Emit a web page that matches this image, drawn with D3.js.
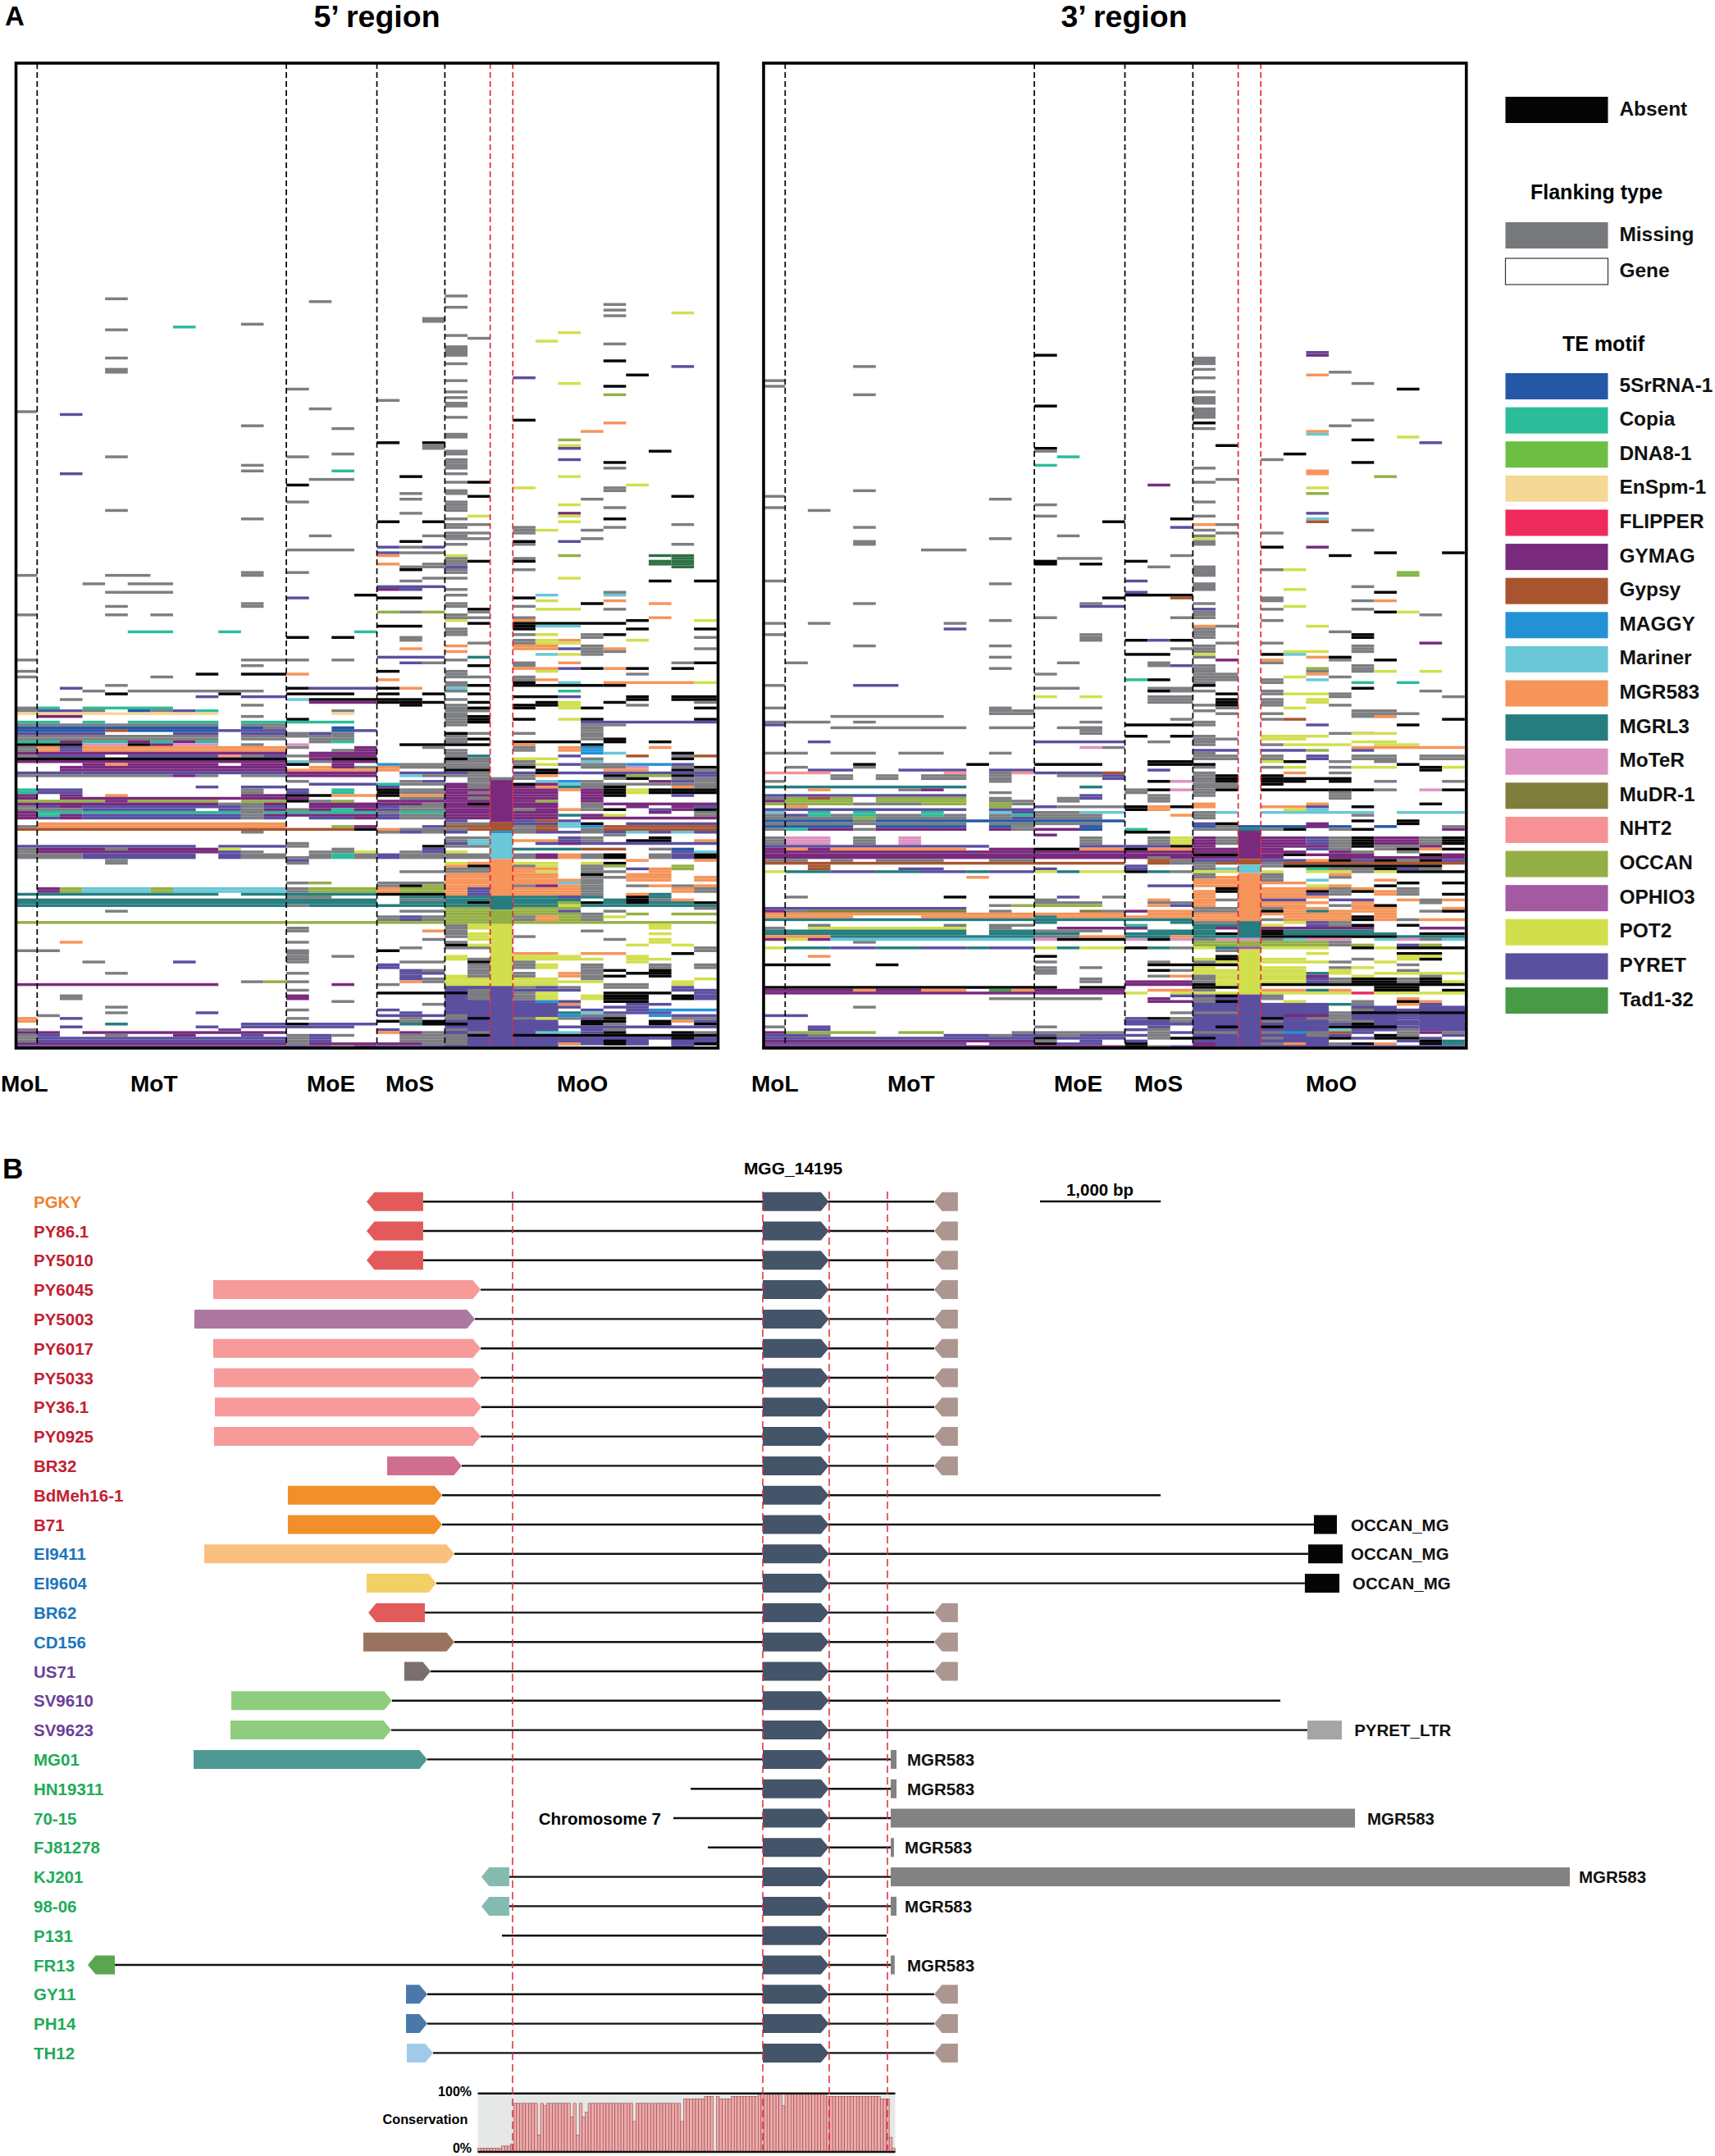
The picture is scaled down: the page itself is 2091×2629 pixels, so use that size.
<!DOCTYPE html>
<html><head><meta charset="utf-8">
<script src="https://cdn.jsdelivr.net/npm/d3@7"></script>
<style>html,body{margin:0;padding:0;background:#fff}text{font-family:"Liberation Sans",Arial,sans-serif;font-weight:700}</style>
</head><body><div id="chart"></div>
<script>
// ---------- Panel A data ----------
const motifNames=["5SrRNA-1","Copia","DNA8-1","EnSpm-1","FLIPPER","GYMAG","Gypsy","MAGGY","Mariner","MGR583","MGRL3","MoTeR","MuDR-1","NHT2","OCCAN","OPHIO3","POT2","PYRET","Tad1-32"];
const motifColors=["#2458a7","#2bbd9a","#6fbe44","#f5d896","#ef2a5c","#792a7d","#a8552f","#2392d5","#69c7d6","#f69459","#267d7f","#dc92c1","#7f7d3a","#f69195","#93b045","#a35aa3","#d2df4c","#5b4fa0","#489a47"];
const motifCodes=["b","c","d","e","f","y","h","m","n","o","l","t","u","s","a","i","z","p","x"];
const cladeNames=["MoL","MoT","MoE","MoS","MoO"];
// cells: "row(s):column(s)+code"; G missing, K absent, X dark tad block
const cells5=[
"327-348:19-20p","333-348:22-23p","345-347:24-25p 26-27p 29-30p",
"82:19G","83:4G","84:13G","85:26G","86:19G","87:26G","88:29z","89:26G","90-91:18G","92:10G","93:7c","94:4G","95:24z","96:19G","97:20G","98:23z","99:26G","100-103:19G","104:4G","105:26K","106:19G","107:29p","108-109:4G","110:27K","111:22p","112:19G","113:24z","114:26K","115:12G","116:19G","117:26a","118:19G","119:16G","120-121:19G","122:13G","123:0G","124:2p","125:19G","126:22K","127:26o","128:10G","129:14G","130:25o","131-132:19G","133:24a","134:16K 18K","135:18G 24z","136:18G 24p","137:28K 19G","138:14G 19G","139:4G 12G","140:19G 24p","141:19G 26K","142:10G 19G","143:19G 26G","144:10G 14c","145:2p 19G","146:17K 24z","147:13-14G","148:19G 20K","149:12K 27z","150:22z 26G","151:19G 26G","152:17G 19G","153:20K 29K","154:17G 25G","155:12G 19G","156:19G 24z","157:19G 26G","158:4G 19G","159:17G 24y","160:20z 24z","161:10G 19G 26K","162:16K 18K 24z","163:19G 20G 29G","164:19G 22G 26G","165:22G 23z 25G","166:19G 20G 22G","167:13G 18G 19G","168:19G 20G 25G","169:17K 22K 24p","170:19G 22G 29G","171:16p 17G 18p","172:12-14G","173:16p 17-18G","174:16o 19z 24a 28X 29X","175:19G 22G 29X","176:19G 20K 22K 28X 29X","177:16o 19G 18G 28X 29X","178:17G 18G 19p 29X","179:17K 19G 22G",
"180:10G 12G 19G","181:0G 4-5G 10G","182:18G 19G 24z","183:17G 28K 30K","184:3G 5-6G","185:16-18p","186:16y 17p 19G","187:4-6G 26G","188:15K 19G 23n 26n","189:12p 16-17K 22K","190:23z 26o","191:10G 19G 25K 28o","192:4G 10G 19G 22G","193:20K 23-24z 26G","194:16a 17G 18a 20G","195:0G 4G 6G 19G","196:19G 20G 22G 28o","197:19z 22o 27K 30z","198:20K 22-26K","199:16-17K 22K 23-24n","200:19G 22K 27K 30K","201:5-6c 9c 15c 19G","202:19G 22G 23z 25G 26K","203:12K 14K 17G 25G 30G","204:17G 22G 24o 23z 27z","205:20G 22G 23-24z","206:19o 25G 22o 23o","207:17o 22o 23o 24p 25G 26o 30G","208:19o 25G 26G","209:25G 23n 24z","210:16-18p 20l","211:0G 10-12G 14G 19G","212:17p 18G 22G 24o 29G 30K","213:10G 20K 22G","214:22o 23o 24p 25K 26o 27K 29K","215:0G 16K 19G 23z","216:8K 10-11K 12o 19G 27G","217:0G 6G 19G 20G 22G","218:16o 22G 23o","219:19G 22K 24n 26-29o 30z","220:4G 19G 20K 22K 23-25K 26K","221:2p 12K 13-15p 16K 17o 19n","222:3G 5-10G 24c 19G","223:4K 9K 12-14K 16K 18K 20K","224:8p 10-11p 24p 22-23K 27K 29-30K","225:2G 12n 13-15K 27K 29-30K 16K 17K 19G","226:13-15y 17K 16K 18K 20K 23K 24z 30G 26K","227:10G 17K 19G 24z 23K 22K 27G","228:0G 1c 3-6c 19G 20K 22K 25K 24z 30K","229:0G 1-2p 3G 5b 6G 7p 8c 14G 19G 20G",
"230:0-8e 14e 19G","231:1-2y 10G 19G 20K","232:12K 19G 20K 22K 24z 25K 30K","233:0-1c 3c 5-8c 10-11c 12-14c 19G 20K 25-30p",
"234:0-8G 10-11G 19G 25-26G","235:0-3b 4-8b 10b 11G 14b 25G","236:0-3b 4h 5-8b 9p 10-11p 14b 15p 25G","237:0-3p 7-8p 10-11p 12G 13p 14G 19K 20G 22G 25G","238:0-8G 10-11G 12G 13G 14G 19G 25G","239:0-8G 10-11G 13-14G 19G 25G 20K 26K","240:0-1c 2y 3-4c 5y 6c 7y 8c 14c 13G 19G 22-24K 26K 28K","241:0-2K 3-4t 5K 6y 7-8t 10G 12t 17-19K 20K 22o 25K","242:0G 1o 2p 3-11o 12G 18G 22G 24o 25m 28o 15y","243:0G 1o 2p 3-11o 14G 15y 19G 24o 25m 22G",
"244:0-11y 13-15y 19G 25m 26n 29K","245:0G 1-3p 5-8p 9s 10G 11p 12G 13-15y 19G 20l 24p 27h 29G 30h","246:0-11K 13y 14-15K 19K 20G 22-23z 25G 29K","247:0-11y 12n 13G 14-15y 19-20G 22G 25n","248:3y 4o 5-8y 10-11y 12K 14y 16m 17-18G 19-20G 22G 23z 24p 25-26G 27-28m 29p","249:2y 3-11y 13o 14y 15G 16o 17-20G 22K 25-26G 27t 29G 30K","250:2-11y 12-15o 16o 19-20K 23K 26-27o 29K 30G","251:0-2p 3-11p 12-15y 17-19p 20G 22p 23K 24-30p","252:0-6G 7y 8G 10-11G 12-15y 17n 18G 19G 20G 22G 23o 26K 27-28a 29K 30p","253:20G 22G 26G 27K 29G 30G","254:12G 17G 18p 20G 23n 24m 25G 28y 29p 30G","255:13-15p 16c 17-18G 19y 20G 22K 23y 24n 25G 26-27G 28G 29G 30G","256:8p 10-11p 16p 19y 20G 22y 23o 24l 25G 26K 29o 30G",
"257:0c 1-2p 10G 12p 14c 16K 17-18G 19y 20y 22-23y 24o 25y 26K 27z 28K 29K 30K","258:0c 1-2p 10G 12p 14c 16K 17-18G 19y 20G 22-23y 25y 26K 27z 28K 29-30K","259:0y 2y 4o 10-11y 12-13K 14-15o 16K 17-18o 19-20y 22-23y 25y 26K 29p","260:0y 2-9y 10-11y 12y 17-18G 19y 20G 22-23y 25y","261:0-3a 4y 5-8a 10-11a 12K 13G 14a 16y 17-18y 19-20y 22y 23a 25y","262:0-8y 9G 10G 11y 13-15y 16-17y 18G 19y 20K 22-23y 25G 26-30y","263:0G 1p 2y 3-9p 10G 11p 13-15y 16p 17-18G 19y 20y 22-23y 25G 27y 29y 30p","264:0-2G 3-7p 9p 10G 11y 12G 13y 14c 15y 16p 17-18G 19-20y 22G 23y 24o 25G 26K 28p 29y 30K","265:0y 1-2c 3-9c 10G 11-15c 16G 17-18c 19-20y 22-23y 28y 30G","266:0y 1c 2y 3-9p 10G 11-15y 16p 17-18G 19-20y 22-23y 24l 25y 26z 30G","267:0y 1p 2y 3-9p 10G 11p 13-14p 15y 16p 17-18G 19-20y 22-23y 25-30y","268:19p 22p 23h 24p","269:1-11o 19-20G 22-23p 24n 25K 27-30p","270:0G 1-11o 14a 15y 18p 19-20h 22G 23h 24n 25m 26-30h","271:0-14h 15K 16o 17-18G 19G 20h 22G 23h 25G 26-30h","272:10G 16G 17p 18G 19p 22G 23-24p 25G 26p 27n 28p 29n 30p","273:26G","274:19G 20G 24p 25G 28K","275:19G 20n 22-23o 24p 25G 27-28K 30o","276:12G 19p 20n 23n 23-30p 24y","277:0-7p 9-11p 12G 18K 19G 20G","278:0G 1-3y 4G 5-8y 9z 14G 18p 22l 23-24l 25-26h 28G 29b","279:0G 1-8y 9p 10G 13G 14G 15z 17G 18p 19z 29p 30n","280:0-2G 3-7p 9p 10-11G 13G 14c 15G 16p 17G 18G 19G 20G 22G 23y 24o 25G 26K 28G 29p 30K","281:0-2G 3-7p 9p 10-11G 12-13G 14c 15G 16p 17-18G 19-20G 22G 23y 24o 25G 26K 28G 29p 30K","282:4G 12p 27o 30o","283:12G 19z 20o 22-23z 25z 26K 4G","284:19o 20K 22G 23z 25G 26a 29a","285:19-20G 22-23o 25G 27p 28o 29a","286:17-18G 19-20G 22o 23z 25-26G 28o","287:19-20o 22-23o 25K 27-28o","288:19-20o 22-23o 25G 26G 27-28o 30o","289:19-20o 22-24o 25G 27-28o 30o","290:12G 13a 16-18G 19-20o 22-23o 24n 25G","291:16G 17K 18a 19-20o 22G 23y 24o 25G 27G 28o 29G 30o","292:1y 2a 3-5n 6a 7-11n 12G 13-15a 16o 17-18a 19o 20p 22-24o 25G 29o 30G","293:1y 2a 3-5n 6a 7-11n 12G 13-15a 16o 17-18a 19o 20p 22-24o 25G 29o 30G","294:0-8l 10-11l 12-15l 16-18K 19o 20p 22-24o 25G 27o 28l","295:12-13G 17-18l 19-20l 22-24l 24p 25l 27K 28l","296:0-15l 17-18G 19-20l 22-24l 26l 27K 28G 29o","297:0-15l 17-18l 19l 20K 22-23l 24a 25K 26l 27K 28-29l 30K","298:0-11l 12G 13-18l 19-20l 22-30l 24z","299:19-20a 22-24a 30G","300:4G 17-18G 19-20a 22-23a 24p 26G","301:19-20a 22-24a 27a 29-30a 25G","302:16G 17p 18G 19-20a 22G 23o 24a 25G 26z","303:16G 17p 18G 19-20a 22G 23o 24a 25G","304:0-30a",
"305:19G 20z 28z","306:12G 20z 19G 28z","307:18o 19G 12G 25G","308:19G 20z 28z","309:20z 22G 19G","310:18G 20z 26G 28z","311:2o 12G 19G 28z","312:19K 20z 27z 29z","313:17G 19-20G 30G","314:0-1G 12G 16K 30G","315:12G 29K 22-23o 25-26o","316:12G 14G 19z 22-24z 27z","317:12G 19z 20G 22-25z 27-28z","318:3G 7p 12G 17-18G 20K 22G 27z","319:16p 20G 22G 23z 25G 28G 30G","320:16p 20G 22G 23z 25G 28G 30G","321:20G 17p 18G 25G 26K 28K","322:4G 12G 17-18p 20G 22G 24o 25G 27K 28K","323:17p 19z 20G 22G 24o 25G 26K 28K","324:17p 18G 19-20z 22-23z 25G 30z","325:10G 11a 12G 17o 18G 19-20z 22-23z 24-25z 29z","326:0-8y 14y 16G 19-20z 22-23z 26-27G 29z",
"327:19-20p 22G 23p 24G 26-27G 29p","328:12G 19p 20G 22-24p 29-30p","329:16-19K 20G 22G 23z 26-28K 30p","330:2G 12y 19p 20G 22G 23z 25z 26-27K 29K 30p","331:2G 12y 19p 20G 22G 23z 25z 26-27K 29K 30p","332:14G 19p 22p 23m 24p 26-27K","333:18G 19-20p 22-23p 24o 27-28p","334:4G 19-20p 22-24p 26-27p","335:12G 16p 19-20p 22-23p 25p 27p 28-30m","336:4G 8p 17p 19-20p 22-23p 24l 25n 26-28p","337:1G 16-18p 19G 20p 22-23p 24m 25-26G 28m 29-30p","338:0o 2p 12G 17G 19G 20K 22G 23z 24G 25p 26K 29-30G","339:0o 16K 17G 18K 20p 22p 25-26K 28K 29o 30p","340:4l 10-11p 12K 13-15p 17l 18-19K 20p 22-23p 25K 26G 28K 30K","341:2p 8p 10-14p 20p 22-23p 24-30p","342:0G 9p 16p 19G 20p 22-23p 25p 26G","343:0-1y 3-6y 7-11y 16o 17y 18G 19p 20G 23-24n 25p 26K 29K 30G","344:0G 1p 4G 7y 10p 12G 13p 14G 17-19G 20K 22-30K","345:0G 1-11p 12G 13p 17-18G 19G 20p 22-24p 26-28p 29K","346:0G 1-11p 12G 13p 17-18G 19G 20p 22-23p 25p 26K 29p","347:0-11y 12G 13-15y 16-17y 18-19G 20p 22-23p 24o 26K 27p 29p 30K","348:0-12p 13p 14G 15y 16-20p 22-23p 29p",
"253:21G","254-268:21y","269-271:21h","272:21m","273-281:21n","282-294:21o","295-299:21l","300-304:21a","305-326:21z","327-348:21p"
];
const cells3=[
"330-348:19-20p","333-348:22-24p","334-342:26-27p 29-30p",
"102:24p","103:24y 12K","104-106:19G","107:4G","108:19G","109:25G","110:24o","111:19G","112:0G","113:26G","114:0G","115:28K","116:19G","117:4G","118-120:19G","121:12K","122-125:19G","126:26G","127:19K","128:25G","129:19G","130:24o","131:24n","132:28z","133:26K","134:29p","135:20K","136:12K","137:12G","138:23K","139:13c","140:22G","141:26K","142:12c","143:19G","144-145:24o","146:27a","147:20G","148:19G","149:17y","150:24z","151:4G","152:24a","153:0G","154:10G","155:19G","156:12G","157:0G","158:2G","159:24p","160:12G 19G","161:18K 24n","162:15K 24h","163:19o 20G","164:4G 18p","165:19G 26G","166:20G 22G","167:13G 19G","168:10G 19z","169-170:4G 19G","171:22K 24y","172:7-8G","173:27K 30K","174:18G 25K","175:13-14G","176-177:12K","176:16K","177:14K","178:17G 19G","179:22G 23z","180:19G 28d",
"179-181:19G","181:28a","183:0G 16p","184:10G","184-186:19G","185:26G","186:23z","187:16p 27K","188:16-18K","189:15K 18h","189-190:22G","190:26G 27o","191:4G 14G 19G","192:14-15p 23z","193:19p 22G 26G","194:27K 28z 19G","195:29G 19G","196:12G 18G 19G","197:10G 22G","198:0G 2G 8G","199:19o 20G 24z","200:8p 19G","201:25G 19G","202:0G 19G 26K 14G","203:26K 14G 19G","204:16K 17p 18K 14G","205:29y 20G 22G","206:4G 10G 19G 26G","207:18G 19G 26G","208:19G 26G 23-24z","209:16-17K 22K 23n 19z","210:10G 24o 25K 19G","211:20y 27K 22o 25G","212:1G 13G 17G 22G","213:17G 18p 19G 26G","214:10G 19G 24a 26G","215:19G 24G 26G 27z 29z","216:12G 19G 20G 24o","217:19G 20G 23z 25G","218:20G 16c 17K 19G 22G 24n","219:22G 19G 26c 28c","220:0G 4-5p 19K","221:12-13G 17-18G 26K","222:17K 18G 19G 22G 29G","223:20K 22G 23-24z 25G","224:12z 14z 17-18G 25G 30G","225:17-18G 24z 22G 20K","226:17-18G 24z 22G 20K","227:19G 20K 22G 25G","228:0G 10G 12-14G 20G 23z","229:10G 11G 19G 26-27G","230:10-11G 20G 22G 28G 26-27G","231:3-7G 26-27G 27o","232:18G 22G 23h 30K","233:0-2G 4G 14G 19G","234:0p 16-18K 19G 24p 28K","235:3-8G 10-11G 13-14G 14G","236:14G","237:14G 25-26G 26-27z","238:16K 18K 19G 22-24z","239:19G 20G 22-23z","240:2p 12-15p 17G 19G 26-27z","241:19G 22G 23-25z 27-28z","242:14t 15G 26-30o","243:19-20p 22-23p 24a 26p","244:0-1G 3-4G 6-7G 10G 19G","245:19-20G 22G 24p 26-27G 29-30G","246:19-20G 22G 24p 26-27G 29-30G","247:17-18K 22z 23K 25G 27G","248:4K 9K 12-14K 17-18K 19K 28K","249:1G 4G 19G 22G 23z 25G 26-27z 29K 30z","250:2-3p 6-8p 10-11p 17p 29K","251:0-2s 8s 10G 11s 12p 13-14p 15h 19G 23o 25G","252:3G 5G 7-8G 10G 13-14G 15p 19G 20K 22K","253:3G 5G 7-8G 10G 15p 19G 20K 22K 23-25K","254:0G 10G 17K 18t 19G 20K 22K 23K 25K 27G 30G","255:19G 20G 22K","256:0-8l 14l 19G 20G",
"257:2o 6G 7y 16G 17K 18t 19G 20K 22-24K 25K 26K 27G 29t 30K","258:10G 16G 19G 25G","259:0-8p 14p 17G 19G 25G","260:0G 1a 2h 3a 5-8a 10G 13G 14p 17G 25G","261:0y 1-3a 5-8a 10-11G 13G 17G","262:0-1a 2-3a 4G 5-6G 7-8a 10a 11G 19o 24o 29K","263:1o 10a 12p 13-15G 16K 17o 18K 19o 22-23o 24p 26K","264:0-8p 10-11p 16K 17o 23z 24n","265:0n 2c 4c 7c 10n 11p 12-13G 14-15n 19G 20n 22-24n 25-26n 28-30n","266:0G 1p 2c 3G 4c 5-6G 7c 8G 10G 11c 12-14G 18o 19G 26G","267:0-3G 4a 5-8G 10G 11p 12-14G 19G","268:0-3b 4G 5-15b 26K 28K","269:0-8G 10-11G 12-14G 19p 20K 24y 28K","270:0-3b 5-8b 10b 11G 14b 19b 20G 22-25b 24y 27b 30G","271:0G 1c 2-3y 4G 5-8y 10y 11G 12-14y 14b 16c 19-20G 22G 23K 25G 26K 30y","272:16-17K","273:12y","274:0G 1-2t 4G 6t 14G 17G 18z 19y 20G 22-23y 24p 25G 26K 27-28y 29G 30K","275:0G 1-2t 4G 6t 14G 17G 18z 19y 20G 22-23y 24p 25G 26K 27-28y 29G 30K","276:0G 1-2t 4G 6t 14G 17G 18z 19y 20G 22-23y 24p 25G 26K 27-28y 29G 30K","277:0-9p 14-17p 18K 19y 22-24y 25G 26K 27-28G 29y","278:0y 1o 2y 3-8o 10-11y 12-13K 14-15o 16K 17-18o 19-20y 22y 24p 25G 27G 28K 29o 30K","279:0-18y 19-20y 22-23y 25y 26G 28G","280:0-18y 19-20K 22y 23K 24-26y 29K 30y","281:0-18y 17G 19-20y 22y 25-30y","282:0-1G 3G 5-7G 10-11G 17h 18G 19-20p 22-23p 24o 25K 26p 27K 28G 29K 30p","283:0-15h 17h 18G 19G 20h 22G 23-30h","284:2h 16p 19G 22G 23-29K","285:2h 6-7p 12p 16p 19G 20n 24c 25-26G 27K 28p 29G","286:0z 1-2l 3-4p 5-6l 7-8p 9l 10-11p 12z 13l 14-15z 16K 17l 18G 19-20z 22z 24z 25z 26G 27z 28-30K","287:19G 22G 25o","288:9o 19G 20o 22G 25G","289:19-20o 22G 24n 27o","290:19-20o 22-23o 28K 30K","291:17-18p 19-20o 24z 25o 27K","292:20K 22-24o 25G 26o 28G","293:19o 20K 22-23o 24K 25G 26K 27o 28G","294:19o 22-23o 24p 25G 27o 28G 30K","295:1G 8K 10-11K 13p 15G 19o 22-24o","296:12G 17o 19o 20G 22-23p 25-26p 28o 29G 30o","297:12-14G 17-18G 19o 22-24o 26o 29G","298:10G 11a 12-14a 17o 18p 19o 22-23o 25G 26o 27K","299:0-8p 19-20G 22G 23-24o 26-27o 30o","300:0y 1G 2-8u 10G 14u 15G 16y 17-18o 19-20G 22K 23o 24l 25-27o 29G 30K","301:0-15o 17-20o 22-25o 27o","302:0-3o 7-11o 12l 13-18o 19-20o 23-25o 26K 27o","303:0-18l 19-20o 22G 23-25o 26K 27o 28G 29-30o","304:12l 18l 19-20G 23z 24p 25G","305:2G 8G 10-11G 16c 19-20l 22z 24p 25G 26K 28K","306:0G 2-8z 10G 13-15y 16y 19l 20y 22y 23-26y 29-30y","307:0-8l 10-11l 12-14G 17-18l 19l 22K 23-26l","308:0-8l 10-11l 12-13l 16-18l 19l 20K 22K 23-27l 29-30K","309:0-2o 3-11l 12-13G 14-15o 16-17l 18o 19-20l 22-27K 28-30l","310:0y 1z 2y 3-11n 12t 13-15K 16t 17K 18t 19G 20t 22G 23n 24-25t 27n 28t 29G 30n","311:4G 19-20a 22-24a 25G","312:19-20a 22-24a 25G 26a 28p 29a","313:0z 1-2l 3-4p 5-6l 7-8p 9l 10-11p 12z 13l 14-15z 16K 17l 18G 19z 20l 22-24z 26K 27z 28-30K",
"314:20G","315:24z 28-29K","316:2o 12K 20K 28-29z","317:19z 20K 22-23z 26G 28z 29K","318:12G 17G 19G 20z 22-24z 25G 27z","319:0-2K 5K 17-20K 28G","320:12G 14G 19z 22-23z 25G 26z","321:12G 17K 18G 19-20z 22-23z 25z 28G","322:12G 19-20z 22-23z 24l 25z 27-30z","323:17G 18o 19G 20z 22-23z 24y 26z 29G","324:14G 19G 20z 22-23z 24p 25G 26-27K 28G 29K","325:14G 16-18y 19G 20z 22-23z 24p 25G 26-27K 28G 29K 30z","326:16-18y 19K 20z 22-30K","327:0-12K 14-15K 19-20K 27-28K","328:0-3y 4o 5-6y 7-8o 10x 11o 12-15y 17-18o 19G 22-23o 24l 25o 27-28K 30K","329:0-15y 16z 18z 19-20z 22-25z 26f 27-30z","330:18p 19p 20K 22G","331:10-14G 17y 19G 22G 28o","332:17-18y 19G 20K 23z 26G 28K 29o","333:19-20p 22p 25l 26G 28o 29p","334:4G 19-20p 22-23p 26p 29p","335:19p 22-24p 26G 27-30p","336:18G 19-20G 22-24p 25G 26-30K","337:0-1p 19-20p 22p 23-24y 25G 26-30p","338:16p 17K 18G 19-20p 22K 23p 24-25G 26-30p","339:16-17p 18G 19p 22G 23p 25-26G 28p","340:16-19p 22p 25p 26K 27-30p","341:0G 2p 12G 17p 19p 20K 22K 23-24p 25-27K 28p 30p","342:2p 16p 17G 19p 22-24p 25n 26-27p 28G 30p","343:0y 1-4a 6-7a 11-15G 17G 18p 19-20G 22G 23m 24G 25h 26p 28G 29y 30G","344:0-1p 2G 8-9p 10G 11-12p 13G 14-16p 17G 19p 22-23p 24G 25p 27K 28G 30p","345:0-11p 12K 13-15p 17G 18-19K 20p 22G 23p 25K 26p 27-28K 29p","346:0-11y 12G 14p 16p 19-20p 22-24p 28p 29K 30l","347:0-8p 10-11p 12K 13-14p 16K 19y 20p 22G 23o 24p 25G 26K 27o 29K 30l","348:0-15y 16K 17G 18p 19y 20p 22-30p",
"270:21b","271:21l","272-281:21y","282-283:21h","284-286:21n","287-303:21o","304-309:21l","310:21t","311-312:21a","313:21i","314-329:21z","330-348:21p"
];
// ---------- Panel B data ----------
const strainNames=["PGKY","PY86.1","PY5010","PY6045","PY5003","PY6017","PY5033","PY36.1","PY0925","BR32","BdMeh16-1","B71","EI9411","EI9604","BR62","CD156","US71","SV9610","SV9623","MG01","HN19311","70-15","FJ81278","KJ201","98-06","P131","FR13","GY11","PH14","TH12"];
const strainColors=["#f0822d","#c22032","#c22032","#c22032","#c22032","#c22032","#c22032","#c22032","#c22032","#c22032","#c22032","#c22032","#1c75bc","#1c75bc","#1c75bc","#1c75bc","#6b3f98","#6b3f98","#6b3f98","#22ab5a","#22ab5a","#22ab5a","#22ab5a","#22ab5a","#22ab5a","#22ab5a","#22ab5a","#22ab5a","#22ab5a","#22ab5a"];
// flanking gene upstream (bp relative to MGG_14195 start; null = none)
const leftStart=[-3279,-3279,-3279,-4549,-4705,-4549,-4542,-4535,-4542,-3109,-3931,-3931,-4623,-3279,-3265,-3306,-2967,-4399,-4406,-4711,null,null,null,-2329,-2329,null,-5587,-2953,-2953,-2946];
const leftEnd=[-2811,-2811,-2811,-2335,-2383,-2335,-2335,-2328,-2335,-2492,-2654,-2654,-2553,-2702,-2797,-2553,-2749,-3069,-3075,-2777,null,null,null,-2098,-2098,null,-5363,-2777,-2777,-2729];
const leftDir=[-1,-1,-1,1,1,1,1,1,1,1,1,1,1,1,-1,1,1,1,1,1,0,0,0,-1,-1,0,-1,1,1,1];
const leftColors=["#e35a5a","#e35a5a","#e35a5a","#f69a9a","#ad789f","#f69a9a","#f69a9a","#f69a9a","#f69a9a","#d06e90","#f28f2a","#f28f2a","#fbbf7f","#f2d063","#e35a5a","#99735e","#7a6e6e","#8fcd7e","#8fcd7e","#4e9a92",null,null,null,"#85bab0","#85bab0",null,"#5aa650","#4a78ab","#4a78ab","#9fcbe8"];
const lineStart=[-2811,-2811,-2811,-2335,-2383,-2335,-2335,-2328,-2335,-2492,-2654,-2654,-2553,-2702,-2797,-2553,-2749,-3069,-3075,-2777,-597,-740,-455,-2098,-2098,-2159,-5363,-2777,-2777,-2729];
const lineEnd=[1419,1419,1419,1419,1419,1419,1419,1419,1419,1419,3293,4562,4515,4487,1419,1419,1419,4284,4508,1059,1059,1059,1059,1059,1059,1025,1059,1419,1419,1419];
// downstream element: kind T = tan flanking gene, B = black, L = light gray, G = gray
const rightKind=["T","T","T","T","T","T","T","T","T","T",null,"B","B","B","T","T","T",null,"L","G","G","G","G","G","G",null,"G","T","T","T"];
const rightEnd=[1615,1615,1615,1615,1615,1615,1615,1615,1615,1615,null,4752,4800,4773,1615,1615,1615,null,4793,1107,1107,4902,1086,6680,1107,null,1092,1615,1615,1615];
const rightLabel=[null,null,null,null,null,null,null,null,null,null,null,"OCCAN_MG","OCCAN_MG","OCCAN_MG",null,null,null,null,"PYRET_LTR","MGR583","MGR583","MGR583","MGR583","MGR583","MGR583",null,"MGR583",null,null,null];
const labelBp=[null,null,null,null,null,null,null,null,null,null,null,4868,4868,4882,null,null,null,null,4896,1195,1195,5003,1175,6755,1175,null,1195,null,null,null];
const geneName="MGG_14195";
const geneSpan=[0,546];
const redMarks=[-2071,0,550,1032];
const conservation=[6,6,6,6,6,6,6,6,10,10,10,13.5,83,83,83,83,83,83,83,83,29,83,79,83,83,83,83,83,83,83,83,60,83,29,83,60,68,83,83,83,83,83,83,83,83,83,83,83,83,83,83,83,52,83,83,83,83,83,83,83,83,83,83,83,83,83,83,83,52,90.5,90.5,90.5,90.5,90.5,90.5,90.5,95,95,95,0,95,90.5,90.5,90.5,90.5,95,95,95,95,95,95,95,95,95,99,99,99,99,99,99,99,99,79,99,99,99,99,99,99,99,99,99,99,99,99,99,99,95,95,95,95,95,95,95,95,95,95,95,95,95,95,95,95,95,95,90.5,90.5,90.5,25,6];
const conservationTicks=["100%","0%"];

// ---------- drawing ----------
const W=2091,H=2629;
const svg=d3.select("#chart").append("svg").attr("width",W).attr("height",H).style("display","block");
svg.append("rect").attr("width",W).attr("height",H).attr("fill","#fff");
const colorOf=new Map(motifCodes.map((c,i)=>[c,motifColors[i]]));
colorOf.set("G","#7d7e81");colorOf.set("K","#050505");colorOf.set("X","#2f6f45");

function parseCells(list){
  const out=[];
  list.forEach(s=>{
    const [rs,items]=s.split(":");
    const [r0,r1]=rs.split("-").map(Number);
    items.split(" ").forEach(it=>{
      const m=it.match(/^(\d+)(?:-(\d+))?([A-Za-z])$/);
      if(!m)return;
      const c0=+m[1],c1=m[2]?+m[2]:c0;
      out.push({r0,r1:r1===undefined?r0:r1,c0,c1,t:m[3]});
    });
  });
  return out;
}
const nRows=349,yTop=77,yBot=1278;
const yRow=d3.scaleLinear().domain([0,nRows]).range([yTop,yBot]);
const colIdx=d3.range(31);
function drawPanel(cells,rangeX,boxL,boxR,title,titleX,cladeX){
  const g=svg.append("g");
  const x=d3.scaleBand().domain(colIdx).range(rangeX).padding(0);
  g.append("g").selectAll("rect").data(parseCells(cells)).join("rect")
    .attr("x",d=>Math.max(boxL,x(d.c0)))
    .attr("y",d=>yRow(d.r0))
    .attr("width",d=>x(d.c1)+x.bandwidth()-Math.max(boxL,x(d.c0)))
    .attr("height",d=>yRow(d.r1+1)-yRow(d.r0))
    .attr("fill",d=>colorOf.get(d.t));
  const dashes=[[1,"#000"],[12,"#000"],[16,"#000"],[19,"#000"],[21,"#e0283c"],[22,"#e0283c"]];
  g.selectAll("line.d").data(dashes).join("line")
    .attr("x1",d=>x(d[0])).attr("x2",d=>x(d[0]))
    .attr("y1",yTop).attr("y2",yBot)
    .attr("stroke",d=>d[1]).attr("stroke-width",1.7).attr("stroke-dasharray","7 4");
  g.append("rect").attr("x",boxL).attr("y",yTop).attr("width",boxR-boxL).attr("height",yBot-yTop)
    .attr("fill","none").attr("stroke","#000").attr("stroke-width",3.6);
  g.append("text").attr("x",titleX).attr("y",33).attr("text-anchor","middle").attr("font-size",37.5).text(title);
  g.selectAll("text.c").data(cladeNames).join("text")
    .attr("x",(d,i)=>cladeX[i]).attr("y",1331).attr("font-size",28).text(d=>d);
}
drawPanel(cells5,[17.7,873.8],19.5,875.5,"5’ region",459.5,[1,159,374,470,679]);
drawPanel(cells3,[929.7,1785.8],931,1787.8,"3’ region",1370.5,[916,1082,1285,1383,1592]);
svg.append("text").attr("x",6).attr("y",31).attr("font-size",33).text("A");
svg.append("text").attr("x",3).attr("y",1437).attr("font-size",35).text("B");

// legend
const lgX=1835.5,lgW=125,lgH=32,lgT=1974.5;
function lgRow(y,fill,label,stroke){
  svg.append("rect").attr("x",lgX).attr("y",y).attr("width",lgW).attr("height",lgH).attr("fill",fill)
    .attr("stroke",stroke||"none").attr("stroke-width",1.2);
  svg.append("text").attr("x",lgT).attr("y",y+lgH/2-2).attr("dominant-baseline","central").attr("font-size",24.4).attr("fill","#111").text(label);
}
lgRow(118,"#050505","Absent");
svg.append("text").attr("x",1866).attr("y",234).attr("dominant-baseline","central").attr("font-size",25).text("Flanking type");
lgRow(271,"#77787b","Missing");
lgRow(315,"#fff","Gene","#333");
svg.append("text").attr("x",1905).attr("y",419).attr("dominant-baseline","central").attr("font-size",25).text("TE motif");
const lgY=d3.scalePoint().domain(motifNames).range([455,1204]);
motifNames.forEach((n,i)=>lgRow(lgY(n),motifColors[i],n));

// panel B
const xBp=d3.scaleLinear().domain([0,1000]).range([930,1077.3]);
const yS=d3.scalePoint().domain(strainNames).range([1465.2,2503.4]);
const aH=11.5,tip=9.5;
function arrowPts(a,b,dir,y){
  if(dir>0)return [[a,y-aH],[b-tip,y-aH],[b,y],[b-tip,y+aH],[a,y+aH]];
  return [[a+tip,y-aH],[b,y-aH],[b,y+aH],[a+tip,y+aH],[a,y]];
}
const pb=svg.append("g");
const ptsStr=p=>p.map(q=>q.join(",")).join(" ");
strainNames.forEach((n,i)=>{
  const y=yS(n);
  pb.append("text").attr("x",41).attr("y",y).attr("dominant-baseline","central").attr("font-size",20.5).attr("fill",strainColors[i]).text(n);
  pb.append("line").attr("x1",xBp(lineStart[i])).attr("x2",xBp(lineEnd[i])).attr("y1",y).attr("y2",y).attr("stroke","#111").attr("stroke-width",2.4);
  if(leftStart[i]!==null)
    pb.append("polygon").attr("points",ptsStr(arrowPts(xBp(leftStart[i]),xBp(leftEnd[i]),leftDir[i],y))).attr("fill",leftColors[i]);
  pb.append("polygon").attr("points",ptsStr(arrowPts(xBp(geneSpan[0]),xBp(geneSpan[1]),1,y))).attr("fill","#445469");
  const k=rightKind[i];
  if(k==="T") pb.append("polygon").attr("points",ptsStr(arrowPts(xBp(1419),xBp(1615),-1,y))).attr("fill","#ae9690");
  else if(k){
    const x0=xBp(lineEnd[i]),x1=xBp(rightEnd[i]);
    pb.append("rect").attr("x",x0).attr("y",y-aH).attr("width",x1-x0).attr("height",aH*2)
      .attr("fill",k==="B"?"#050505":k==="L"?"#a5a5a5":"#828282");
    pb.append("text").attr("x",xBp(labelBp[i])).attr("y",y).attr("dominant-baseline","central").attr("font-size",20.5).attr("fill","#111").text(rightLabel[i]);
  }
});
pb.append("text").attr("x",967).attr("y",1424).attr("text-anchor","middle").attr("dominant-baseline","central").attr("font-size",21).text(geneName);
pb.append("text").attr("x",1341).attr("y",1458).attr("text-anchor","middle").attr("font-size",20.5).text("1,000 bp");
pb.append("line").attr("x1",1268).attr("x2",1268+xBp(1000)-xBp(0)).attr("y1",1465).attr("y2",1465).attr("stroke","#111").attr("stroke-width",2.4);
pb.append("text").attr("x",806).attr("y",yS("70-15")).attr("text-anchor","end").attr("dominant-baseline","central").attr("font-size",20.5).text("Chromosome 7");

// conservation
const xC=d3.scaleBand().domain(d3.range(conservation.length)).range([582.6,1091.5]).padding(0);
const yC=d3.scaleLinear().domain([0,100]).range([2624,2552.7]);
const cg=svg.append("g");
cg.append("rect").attr("x",582.6).attr("y",2552.7).attr("width",1091.5-582.6).attr("height",2624-2552.7).attr("fill","#e6e7e7");
cg.selectAll("rect.b").data(conservation).join("rect").attr("class","b")
  .attr("x",(d,i)=>xC(i)).attr("width",xC.bandwidth())
  .attr("y",d=>yC(d)).attr("height",d=>yC(0)-yC(d))
  .attr("fill","#f4a8a8").attr("stroke","#7a4a4a").attr("stroke-width",.55);
[100,0].forEach(v=>cg.append("line").attr("x1",582.6).attr("x2",1091.5).attr("y1",yC(v)).attr("y2",yC(v)).attr("stroke","#111").attr("stroke-width",2.6));
cg.append("text").attr("x",575).attr("y",2550).attr("text-anchor","end").attr("dominant-baseline","central").attr("font-size",16).text(conservationTicks[0]);
cg.append("text").attr("x",575).attr("y",2619).attr("text-anchor","end").attr("dominant-baseline","central").attr("font-size",16).text(conservationTicks[1]);
cg.append("text").attr("x",570.5).attr("y",2584).attr("text-anchor","end").attr("dominant-baseline","central").attr("font-size",16.3).text("Conservation");

// red guides
svg.append("g").selectAll("line").data(redMarks).join("line")
  .attr("x1",d=>xBp(d)).attr("x2",d=>xBp(d)).attr("y1",1453).attr("y2",2622)
  .attr("stroke","#e0283c").attr("stroke-width",1.5).attr("stroke-dasharray","9 5");
</script></body></html>
